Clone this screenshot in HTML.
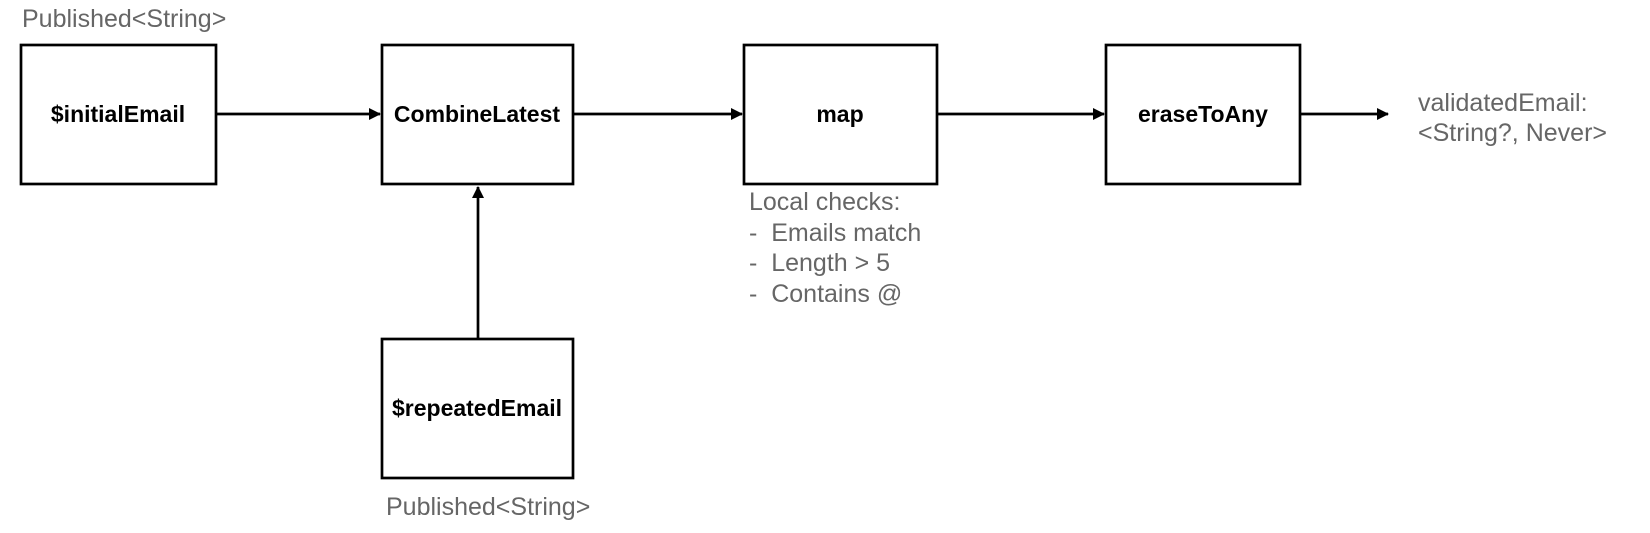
<!DOCTYPE html>
<html><head><meta charset="utf-8"><style>
html,body{margin:0;padding:0;background:#fff;}
svg{display:block;}
text{font-family:"Liberation Sans",Arial,sans-serif;}
.b{font-weight:bold;font-size:23px;fill:#000;text-anchor:middle;}
.g{font-size:25px;fill:#666;}
</style></head><body>
<svg width="1650" height="533" viewBox="0 0 1650 533" xmlns="http://www.w3.org/2000/svg">
<defs><marker id="a" markerWidth="12" markerHeight="12" refX="11" refY="6" orient="auto" markerUnits="userSpaceOnUse"><path d="M0,0 L12,6 L0,12 Z" fill="#000"/></marker></defs>
<g fill="none" stroke="#000" stroke-width="2.7">
<rect x="21" y="45" width="195" height="139"/>
<rect x="382" y="45" width="191" height="139"/>
<rect x="744" y="45" width="193" height="139"/>
<rect x="1106" y="45" width="194" height="139"/>
<rect x="382" y="339" width="191" height="139"/>
<line x1="216" y1="114" x2="380" y2="114" marker-end="url(#a)"/>
<line x1="573" y1="114" x2="742" y2="114" marker-end="url(#a)"/>
<line x1="937" y1="114" x2="1104" y2="114" marker-end="url(#a)"/>
<line x1="1300" y1="114" x2="1388" y2="114" marker-end="url(#a)"/>
<line x1="478" y1="339" x2="478" y2="187" marker-end="url(#a)"/>
</g>
<text class="b" x="118" y="122">$initialEmail</text>
<text class="b" x="477" y="122">CombineLatest</text>
<text class="b" x="840" y="122">map</text>
<text class="b" x="1203" y="122">eraseToAny</text>
<text class="b" x="477" y="416">$repeatedEmail</text>
<text class="g" x="22" y="27">Published&lt;String&gt;</text>
<text class="g" x="386" y="515">Published&lt;String&gt;</text>
<text class="g" x="749" y="210">Local checks:</text>
<text class="g" x="749" y="241" xml:space="preserve">-  Emails match</text>
<text class="g" x="749" y="271" xml:space="preserve">-  Length &gt; 5</text>
<text class="g" x="749" y="302" xml:space="preserve">-  Contains @</text>
<text class="g" x="1418" y="111">validatedEmail:</text>
<text class="g" x="1418" y="141">&lt;String?, Never&gt;</text>
</svg>
</body></html>
